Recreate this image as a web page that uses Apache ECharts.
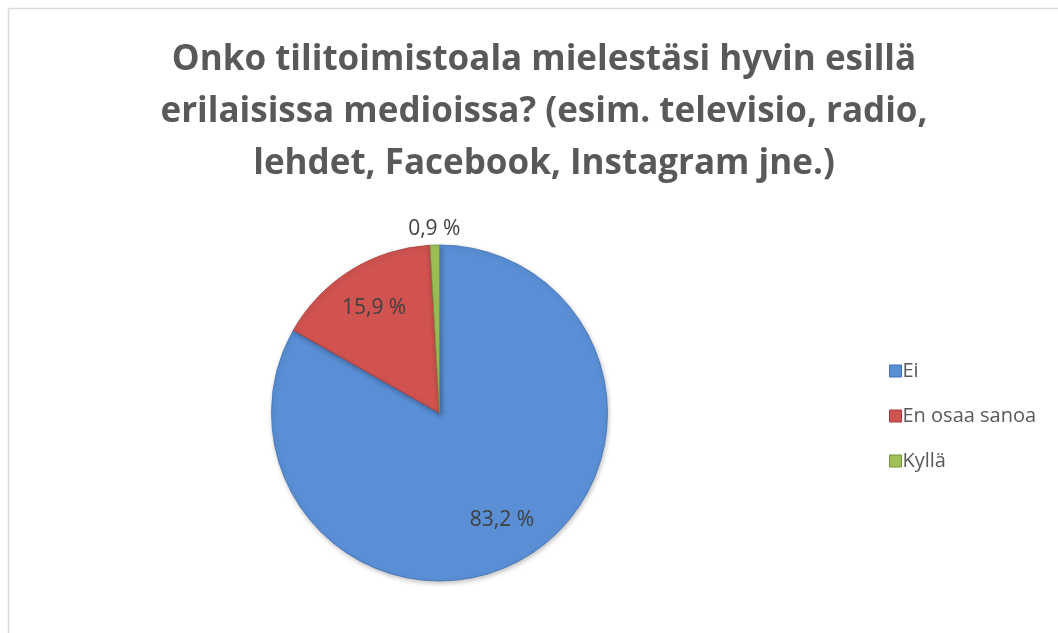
<!DOCTYPE html>
<html>
<head>
<meta charset="utf-8">
<script src="https://cdn.jsdelivr.net/npm/echarts@6/dist/echarts.min.js"></script>
<style>
html,body{margin:0;padding:0;background:#fff;}
#c{width:1058px;height:633px;}
</style>
</head>
<body>
<div id="c"></div>
<script>
const titleLines = ['Onko tilitoimistoala mielestäsi hyvin esillä', 'erilaisissa medioissa? (esim. televisio, radio,', 'lehdet, Facebook, Instagram jne.)'];
const categories = ['Ei', 'En osaa sanoa', 'Kyllä'];
const values = [83.2, 15.9, 0.9];
const colors = ['#5a8fd5', '#d05350', '#9fc157'];
const edgeColors = ['#3f6fb4', '#a83c3a', '#76923c'];

const chart = echarts.init(document.getElementById('c'));
const fmt = v => v.toFixed(1).replace('.', ',') + ' %';
const C = [439.5, 413];
const R = 168;

const mainData = categories.map((n, i) => ({
  name: n, value: values[i],
  itemStyle: {color: colors[i], borderColor: edgeColors[i], borderWidth: 0.8}
}));
const labelStyle = {color: '#404040', fontSize: 21, fontFamily: 'Open Sans'};

chart.setOption({
  animation: false,
  title: {
    text: titleLines.join('\n'),
    left: 539, top: 29, textAlign: 'center',
    textStyle: {fontFamily: 'Open Sans', fontWeight: 'bold', fontSize: 35, color: '#595959', lineHeight: 52}
  },
  legend: {
    orient: 'vertical', left: 884, top: 356,
    itemWidth: 12, itemHeight: 12, itemGap: 25,
    icon: 'rect',
    data: categories.map((n, i) => ({name: n, itemStyle: {color: colors[i], borderColor: edgeColors[i], borderWidth: 1}})),
    textStyle: {fontFamily: 'Open Sans', fontSize: 20, color: '#595959', padding: [0, 0, 0, -4]}
  },
  graphic: [
    {type: 'line', shape: {x1: 8.5, y1: 8.5, x2: 1058, y2: 8.5}, style: {stroke: '#d9d9d9', lineWidth: 1.5}},
    {type: 'line', shape: {x1: 8.5, y1: 8.5, x2: 8.5, y2: 633}, style: {stroke: '#d9d9d9', lineWidth: 1.5}}
  ],
  series: [
    {
      type: 'pie', center: C, radius: [0, R], startAngle: 90, clockwise: true,
      label: {show: false}, labelLine: {show: false},
      emphasis: {disabled: true},
      itemStyle: {shadowBlur: 5, shadowColor: 'rgba(0,0,0,0.25)', shadowOffsetX: 1, shadowOffsetY: 2},
      data: mainData
    },
    {
      type: 'pie', center: C, radius: [R * 0.44, R], startAngle: 90, clockwise: true,
      silent: true, emphasis: {disabled: true},
      itemStyle: {color: 'transparent'},
      labelLine: {show: false},
      label: Object.assign({show: true, position: 'inside', formatter: p => fmt(p.value)}, labelStyle),
      data: categories.map((n, i) => ({name: n, value: values[i], label: {show: i < 2}}))
    },
    {
      type: 'pie', center: C, radius: [R * 1.06, R * 1.1], startAngle: 90, clockwise: true,
      silent: true, emphasis: {disabled: true},
      itemStyle: {color: 'transparent'},
      labelLine: {show: false},
      label: Object.assign({show: true, position: 'inside', formatter: p => fmt(p.value)}, labelStyle),
      data: categories.map((n, i) => ({name: n, value: values[i], label: {show: i === 2}}))
    }
  ]
});
</script>
</body>
</html>
